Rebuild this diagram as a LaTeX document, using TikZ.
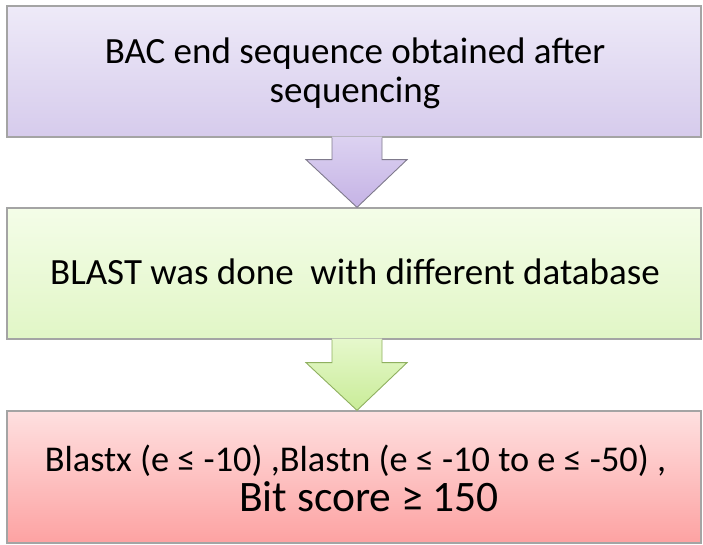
\documentclass[tikz,border=0pt]{standalone}
\usepackage{fontspec}
\setmainfont{Carlito}
\usetikzlibrary{calc}
\definecolor{boxline}{HTML}{A4A4A4}
\definecolor{purpTop}{HTML}{EEEAF8}
\definecolor{purpBot}{HTML}{D6CBEC}
\definecolor{greenTop}{HTML}{F4FDE8}
\definecolor{greenBot}{HTML}{E1F6C6}
\definecolor{redTop}{HTML}{FEE0E0}
\definecolor{redBot}{HTML}{FDA2A2}
\definecolor{parTop}{HTML}{DCD2F1}
\definecolor{parBot}{HTML}{C5B3E5}
\definecolor{garTop}{HTML}{E6F8CC}
\definecolor{garBot}{HTML}{C9EC98}
\definecolor{garLine}{HTML}{8FB060}
\definecolor{parLine}{HTML}{7F7A8C}
\begin{document}
\begin{tikzpicture}[x=1pt,y=-1pt,
  box/.style={draw=boxline, line width=1.3pt, minimum width=694pt, minimum height=131pt, inner sep=0pt},
  txt/.style={anchor=base, inner sep=0pt, font=\fontsize{37}{44}\selectfont},
  midtxt/.style={anchor=base, inner sep=0pt, font=\fontsize{36.3}{44}\selectfont},
  bigtxt/.style={anchor=base, inner sep=0pt, font=\fontsize{43.5}{50}\selectfont},
  arrowline/.style={line width=0.9pt, line join=miter}]
\useasboundingbox (0,0) rectangle (703,545);
\node[box, top color=purpTop, bottom color=purpBot] (a) at (354,71.5) {};
\node[box, top color=greenTop, bottom color=greenBot] (b) at (354,273.5) {};
\node[box, top color=redTop, bottom color=redBot, minimum height=132pt] (c) at (354,477) {};
\node[txt] (ta1) at (355,64) {BAC end sequence obtained after};
\node[txt] (ta2) at (355,103) {sequencing};
\node[txt] (tb) at (355,284) {BLAST was done\ \ with different database};
\node[midtxt] (tc1) at (355.5,471) {Blastx (e ≤ -10) ,Blastn (e ≤ -10 to e ≤ -50) ,};
\node[bigtxt] (tc2) at (369,511) {Bit score ≥ 150};
% arrow a -> b
\coordinate (a1) at ($(a.south)+(3,0)$);
\coordinate (b1) at ($(b.north)+(3,0)$);
\shade[top color=parTop, bottom color=parBot]
  ($(a1)+(-25,-1)$) -- ($(a1)+(-25,22)$) -- ($(a1)+(-51,22)$) -- (b1) -- ($(a1)+(50,22)$) -- ($(a1)+(25,22)$) -- ($(a1)+(25,-1)$) -- cycle;
\draw[arrowline, draw=parLine]
  ($(a1)+(-25,0)$) -- ($(a1)+(-25,22)$) -- ($(a1)+(-51,22)$) -- (b1) -- ($(a1)+(50,22)$) -- ($(a1)+(25,22)$) -- ($(a1)+(25,0)$);
% arrow b -> c
\coordinate (b2) at ($(b.south)+(3,0)$);
\coordinate (c1) at ($(c.north)+(3,0)$);
\shade[top color=garTop, bottom color=garBot]
  ($(b2)+(-25,-1)$) -- ($(b2)+(-25,23)$) -- ($(b2)+(-51,23)$) -- (c1) -- ($(b2)+(50,23)$) -- ($(b2)+(25,23)$) -- ($(b2)+(25,-1)$) -- cycle;
\draw[arrowline, draw=garLine]
  ($(b2)+(-25,0)$) -- ($(b2)+(-25,23)$) -- ($(b2)+(-51,23)$) -- (c1) -- ($(b2)+(50,23)$) -- ($(b2)+(25,23)$) -- ($(b2)+(25,0)$);
\end{tikzpicture}
\end{document}
